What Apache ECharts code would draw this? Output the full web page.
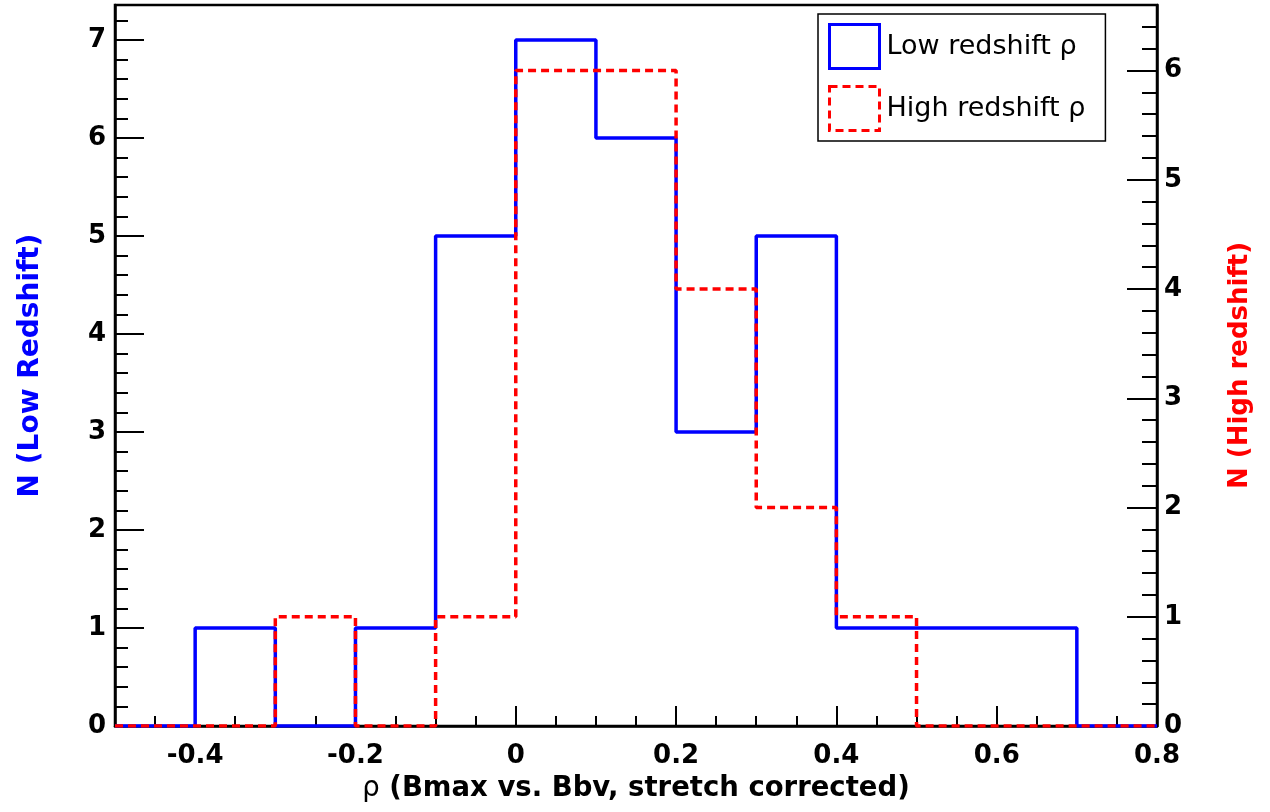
<!DOCTYPE html>
<html>
<head>
<meta charset="utf-8">
<script src="https://cdn.jsdelivr.net/npm/echarts@6/dist/echarts.min.js"></script>
<style>html,body{margin:0;padding:0;background:#fff}#main{width:1270px;height:812px}</style>
</head>
<body>
<div id="main"></div>
<script>
// histogram bins (left edges) and counts
var binStarts = [-0.5, -0.4, -0.3, -0.2, -0.1, 0, 0.1, 0.2, 0.3, 0.4, 0.5, 0.6, 0.7];
var binWidth = 0.1;
var lowCounts = [0, 1, 0, 1, 5, 7, 6, 3, 5, 1, 1, 1, 0];
var highCounts = [0, 0, 1, 0, 1, 6, 6, 4, 2, 1, 0, 0, 0];
// x tick positions (every 0.05) and the labelled ones
var xTickValues = [-0.5, -0.45, -0.4, -0.35, -0.3, -0.25, -0.2, -0.15, -0.1, -0.05, 0,
    0.05, 0.1, 0.15, 0.2, 0.25, 0.3, 0.35, 0.4, 0.45, 0.5, 0.55, 0.6, 0.65, 0.7, 0.75, 0.8];
var xLabelValues = [-0.4, -0.2, 0, 0.2, 0.4, 0.6, 0.8];

var FONT = '"DejaVu Sans", sans-serif';

// points at bin left edges + closing point at the last right edge
function steps(counts) {
    var pts = [];
    for (var i = 0; i < binStarts.length; i++) {
        pts.push([binStarts[i], counts[i]]);
    }
    var last = binStarts.length - 1;
    pts.push([+(binStarts[last] + binWidth).toFixed(2), counts[last]]);
    return pts;
}

function intLabel(v) {
    return Math.abs(v - Math.round(v)) < 1e-6 ? String(Math.round(v)) : '';
}

function isMajorX(i) {
    return xLabelValues.indexOf(xTickValues[i]) >= 0;
}

var chart = echarts.init(document.getElementById('main'));
chart.setOption({
    animation: false,
    backgroundColor: '#fff',
    grid: {left: 115, right: 113, top: 5, bottom: 86, show: true, borderColor: '#000', borderWidth: 2.5},
    legend: {
        left: 818, top: 14, orient: 'vertical',
        padding: [9, 20, 9, 10],
        itemWidth: 50, itemHeight: 44, itemGap: 15,
        backgroundColor: '#fff', borderColor: '#000', borderWidth: 1.5, borderRadius: 0,
        textStyle: {fontFamily: FONT, fontSize: 27, color: '#000', padding: [0, 0, 0, 2]},
        data: [
            {name: 'Low redshift ρ', icon: 'rect',
                itemStyle: {color: 'rgba(0,0,0,0)', borderColor: '#0000ff', borderWidth: 3}},
            {name: 'High redshift ρ', icon: 'rect',
                itemStyle: {color: 'rgba(0,0,0,0)', borderColor: '#ff0000', borderWidth: 3, borderType: [8, 5]}}
        ]
    },
    xAxis: [{
        // data axis
        type: 'value', min: -0.5, max: 0.8, position: 'bottom',
        name: '{r|ρ} (Bmax vs. Bbv, stretch corrected)', nameLocation: 'middle', nameGap: 49,
        nameTextStyle: {fontFamily: FONT, fontSize: 27.5, fontWeight: 'bold', color: '#000',
            rich: {r: {fontFamily: FONT, fontSize: 27.5, fontWeight: 'normal', color: '#000'}}},
        axisLine: {onZero: false, lineStyle: {color: '#000', width: 2.5}},
        axisTick: {show: false},
        axisLabel: {show: false},
        splitLine: {show: false}
    }, {
        // minor ticks every 0.05
        type: 'value', min: -0.5, max: 0.8, interval: 0.05, position: 'bottom',
        axisLine: {show: false, onZero: false},
        axisTick: {inside: true, length: 10, lineStyle: {color: '#000', width: 2}},
        axisLabel: {show: false},
        splitLine: {show: false}
    }, {
        // major ticks and labels
        type: 'category', boundaryGap: false, position: 'bottom',
        data: xTickValues.map(String),
        axisLine: {show: false, onZero: false},
        axisTick: {inside: true, length: 20, interval: isMajorX, lineStyle: {color: '#000', width: 2}},
        axisLabel: {interval: isMajorX, margin: 17, fontFamily: FONT, fontSize: 26, fontWeight: 'bold', color: '#000'},
        splitLine: {show: false}
    }],
    yAxis: [{
        type: 'value', min: 0, max: 7.357, interval: 1, position: 'left',
        name: 'N (Low Redshift)', nameLocation: 'middle', nameGap: 70, nameRotate: 90,
        nameTextStyle: {fontFamily: FONT, fontSize: 28, fontWeight: 'bold', color: '#0000ff'},
        axisLine: {show: true, onZero: false, lineStyle: {color: '#000', width: 2.5}},
        axisTick: {inside: true, length: 29, lineStyle: {color: '#000', width: 2}},
        axisLabel: {margin: 9, fontFamily: FONT, fontSize: 26, fontWeight: 'bold', color: '#000', formatter: intLabel},
        splitLine: {show: false}
    }, {
        type: 'value', min: 0, max: 6.6, interval: 1, position: 'right',
        name: 'N (High redshift)', nameLocation: 'middle', nameGap: 70, nameRotate: 90,
        nameTextStyle: {fontFamily: FONT, fontSize: 26, fontWeight: 'bold', color: '#ff0000'},
        axisLine: {show: true, onZero: false, lineStyle: {color: '#000', width: 2.5}},
        axisTick: {inside: true, length: 30, lineStyle: {color: '#000', width: 2}},
        axisLabel: {margin: 7, fontFamily: FONT, fontSize: 26, fontWeight: 'bold', color: '#000', formatter: intLabel},
        splitLine: {show: false}
    }, {
        // left minor ticks
        type: 'value', min: 0, max: 7.357, interval: 0.2, position: 'left',
        axisLine: {show: false, onZero: false},
        axisTick: {inside: true, length: 13, lineStyle: {color: '#000', width: 2}},
        axisLabel: {show: false},
        splitLine: {show: false}
    }, {
        // right minor ticks
        type: 'value', min: 0, max: 6.6, interval: 0.2, position: 'right',
        axisLine: {show: false, onZero: false},
        axisTick: {inside: true, length: 15, lineStyle: {color: '#000', width: 2}},
        axisLabel: {show: false},
        splitLine: {show: false}
    }],
    series: [{
        name: 'Low redshift ρ',
        type: 'line', step: 'end', xAxisIndex: 0, yAxisIndex: 0,
        showSymbol: false, symbol: 'none',
        lineStyle: {color: '#0000ff', width: 3.5},
        itemStyle: {color: '#0000ff'},
        data: steps(lowCounts)
    }, {
        name: 'High redshift ρ',
        type: 'line', step: 'end', xAxisIndex: 0, yAxisIndex: 1,
        showSymbol: false, symbol: 'none',
        lineStyle: {color: '#ff0000', width: 3.5, type: [8, 5]},
        itemStyle: {color: '#ff0000'},
        data: steps(highCounts)
    }]
});
</script>
</body>
</html>
